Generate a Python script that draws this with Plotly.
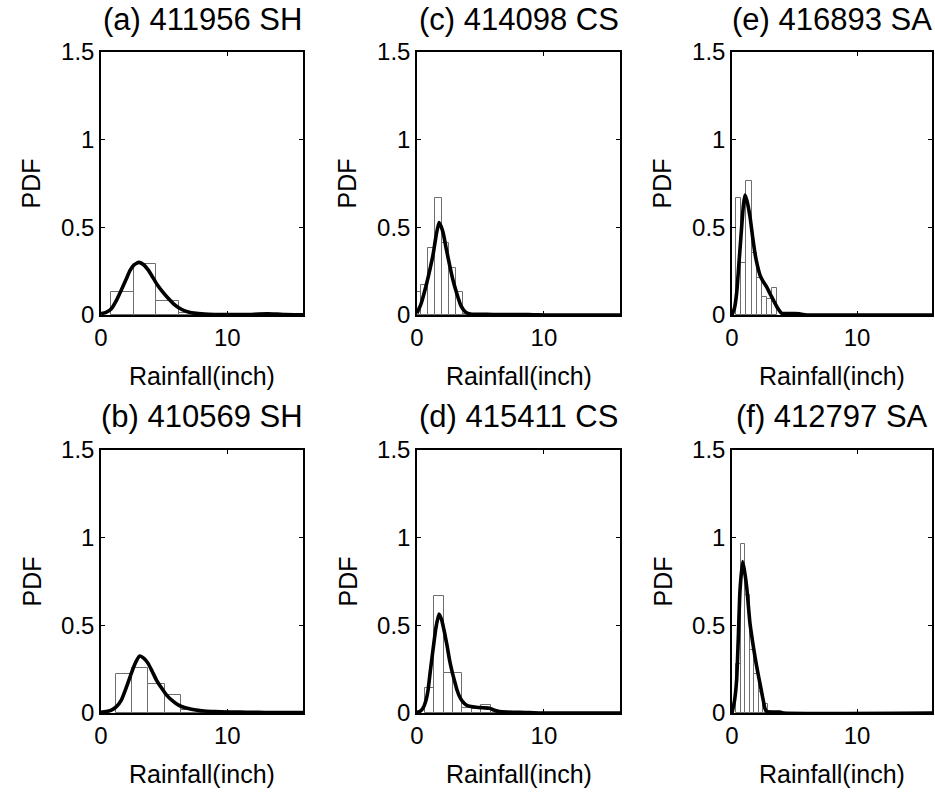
import numpy as np
import plotly.graph_objects as go

# ---------------- data ----------------
titles = ["(a) 411956 SH", "(b) 410569 SH", "(c) 414098 CS",
          "(d) 415411 CS", "(e) 416893 SA", "(f) 412797 SA"]

# histogram bin edges and PDF heights
a_edges = [0.77, 2.58, 4.38, 6.19, 8.00, 9.80, 11.61, 13.42, 15.22, 17.03]
a_hist = [0.131, 0.289, 0.082, 0.013, 0.002, 0.0, 0.008, 0.008, 0.0]
b_edges = [1.22, 2.49, 3.76, 5.03, 6.30, 7.57, 8.84, 10.11, 11.38, 12.65]
b_hist = [0.222, 0.255, 0.164, 0.103, 0.017, 0.008, 0.004, 0.003, 0.002]
c_edges = [-0.245, 0.31, 0.865, 1.42, 1.975, 2.53, 3.085, 3.64, 4.195]
c_hist = [0.13, 0.17, 0.38, 0.665, 0.41, 0.27, 0.13, 0.005]
d_edges = [0.6, 1.345, 2.09, 2.835, 3.58, 4.325, 5.07, 5.815, 6.56, 7.305]
d_hist = [0.141, 0.667, 0.23, 0.23, 0.03, 0.02, 0.046, 0.01, 0.004]
e_edges = [0.33, 0.74, 1.15, 1.56, 1.97, 2.38, 2.79, 3.2, 3.61]
e_hist = [0.666, 0.295, 0.766, 0.355, 0.21, 0.10, 0.09, 0.152]
f_edges = [0.33, 0.69, 1.05, 1.41, 1.77, 2.13, 2.49, 2.85]
f_hist = [0.28, 0.963, 0.674, 0.36, 0.22, 0.12, 0.05]

# kernel density curves
a_kx = [0, 0.4, 0.82, 1.2, 1.61, 2.0, 2.28, 2.6, 2.99, 3.35, 3.73, 4.1, 4.47, 4.9, 5.32,
        5.75, 6.19, 6.7, 7.17, 7.7, 8.2, 9, 10, 11, 11.8, 12.5, 13.2, 13.9, 14.6, 15.3, 16]
a_ky = [0.008, 0.015, 0.035, 0.08, 0.143, 0.205, 0.252, 0.285, 0.300, 0.288, 0.257, 0.215,
        0.171, 0.13, 0.095, 0.064, 0.04, 0.022, 0.013, 0.008, 0.005, 0.003, 0.002, 0.002,
        0.003, 0.006, 0.007, 0.005, 0.002, 0.001, 0.001]
b_kx = [0, 0.4, 0.82, 1.2, 1.61, 2.0, 2.4, 2.75, 3.07, 3.4, 3.73, 4.05, 4.39, 4.8, 5.18,
        5.65, 6.11, 6.6, 7.17, 7.7, 8.2, 9, 10, 11, 12, 13, 14, 16]
b_ky = [0.004, 0.008, 0.017, 0.035, 0.074, 0.145, 0.226, 0.29, 0.325, 0.312, 0.283, 0.238,
        0.188, 0.142, 0.103, 0.07, 0.046, 0.031, 0.021, 0.015, 0.011, 0.008, 0.006, 0.005,
        0.004, 0.003, 0.002, 0.002]
c_kx = [0, 0.3, 0.76, 1.05, 1.28, 1.5, 1.73, 1.9, 2.07, 2.3, 2.6, 2.85, 3.13, 3.45, 3.78,
        4.17, 5, 6, 7, 8, 8.8, 9.5, 10.5, 16]
c_ky = [0.01, 0.06, 0.18, 0.27, 0.35, 0.45, 0.527, 0.505, 0.466, 0.38, 0.275, 0.195, 0.124,
        0.055, 0.02, 0.006, 0.004, 0.003, 0.003, 0.003, 0.002, 0.001, 0.0, 0.0]
d_kx = [0, 0.25, 0.47, 0.7, 0.87, 1.05, 1.26, 1.5, 1.73, 1.95, 2.18, 2.38, 2.57, 2.77, 2.97,
        3.16, 3.36, 3.6, 3.88, 4.25, 4.67, 5.2, 5.72, 6.1, 6.5, 7.1, 7.7, 8.5, 9.2, 10, 16]
d_ky = [0.004, 0.01, 0.027, 0.07, 0.13, 0.24, 0.36, 0.49, 0.565, 0.53, 0.455, 0.38, 0.30,
        0.235, 0.18, 0.13, 0.093, 0.065, 0.046, 0.037, 0.033, 0.03, 0.027, 0.016, 0.008,
        0.005, 0.004, 0.003, 0.001, 0.0, 0.0]
e_kx = [0, 0.2, 0.37, 0.55, 0.77, 0.92, 1.04, 1.2, 1.44, 1.64, 1.84, 2.04, 2.24, 2.5, 2.77,
        3.05, 3.3, 3.65, 3.97, 4.5, 5.0, 5.4, 5.7, 6, 16]
e_ky = [0.0, 0.04, 0.124, 0.29, 0.5, 0.63, 0.684, 0.65, 0.56, 0.45, 0.35, 0.28, 0.228, 0.19,
        0.16, 0.12, 0.086, 0.04, 0.01, 0.008, 0.008, 0.007, 0.002, 0.0, 0.0]
f_kx = [0, 0.2, 0.37, 0.5, 0.64, 0.85, 1.0, 1.17, 1.3, 1.44, 1.64, 1.84, 2.04, 2.24, 2.45,
        2.64, 2.77, 3.3, 3.84, 4.1, 16]
f_ky = [0.0, 0.07, 0.188, 0.42, 0.70, 0.864, 0.81, 0.722, 0.62, 0.51, 0.41, 0.32, 0.24,
        0.168, 0.09, 0.025, 0.008, 0.006, 0.005, 0.0, 0.0]

y_tickvals = [0, 0.5, 1, 1.5]
y_ticktext = ["0", "0.5", "1", "1.5"]
x_tickvals = [0, 10]
x_ticktext = ["0", "10"]
x_label = "Rainfall(inch)"
y_label = "PDF"

panels = [
    (a_edges, a_hist, a_kx, a_ky),
    (b_edges, b_hist, b_kx, b_ky),
    (c_edges, c_hist, c_kx, c_ky),
    (d_edges, d_hist, d_kx, d_ky),
    (e_edges, e_hist, e_kx, e_ky),
    (f_edges, f_hist, f_kx, f_ky),
]

# ---------------- layout ----------------
W, H = 935, 793
col_px = [(101, 303), (417, 620), (732, 932)]
row_px = [(52, 315), (450, 713)]
FONT = "Liberation Sans, Arial, sans-serif"

fig = go.Figure()
layout = dict(width=W, height=H, autosize=False,
              margin=dict(l=0, r=0, t=0, b=0, pad=0, autoexpand=False),
              paper_bgcolor="white", plot_bgcolor="white", showlegend=False,
              font=dict(family=FONT, color="black", size=24), bargap=0)
annotations = []

for i, (edges, hist, kx, ky) in enumerate(panels):
    col = i // 2
    row = i % 2
    n = i + 1
    xa = "x" if n == 1 else f"x{n}"
    ya = "y" if n == 1 else f"y{n}"
    edges = np.array(edges)
    centers = (edges[:-1] + edges[1:]) / 2
    widths = np.diff(edges)
    fig.add_trace(go.Bar(x=centers, y=hist, width=widths, xaxis=xa, yaxis=ya,
                         marker=dict(color="white", line=dict(color="#6e6e6e", width=1))))
    fig.add_trace(go.Scatter(x=kx, y=ky, mode="lines", xaxis=xa, yaxis=ya,
                             line=dict(color="black", width=3.6, shape="spline", smoothing=0.5)))
    x0, x1 = col_px[col]
    y0, y1 = row_px[row]
    xd = [x0 / W, x1 / W]
    yd = [1 - y1 / H, 1 - y0 / H]
    axis_common = dict(showline=True, linecolor="black", linewidth=1.5, mirror="ticks",
                       ticks="inside", ticklen=4, tickwidth=1.2, tickcolor="black",
                       showgrid=False, zeroline=False, automargin=False,
                       tickfont=dict(size=24, family=FONT))
    layout["xaxis" if n == 1 else f"xaxis{n}"] = dict(
        domain=xd, range=[0, 16], anchor=ya, tickmode="array",
        tickvals=x_tickvals, ticktext=x_ticktext, **axis_common)
    layout["yaxis" if n == 1 else f"yaxis{n}"] = dict(
        domain=yd, range=[0, 1.5], anchor=xa, tickmode="array",
        tickvals=y_tickvals, ticktext=y_ticktext, **axis_common)
    cx = (x0 + x1) / 2 / W
    annotations.append(dict(text=titles[i], x=cx, y=1 - (y0 - 33) / H, xref="paper", yref="paper",
                            showarrow=False, xanchor="center", yanchor="middle",
                            font=dict(size=31, family=FONT)))
    annotations.append(dict(text=x_label, x=cx, y=1 - (y1 + 61) / H, xref="paper", yref="paper",
                            showarrow=False, xanchor="center", yanchor="middle",
                            font=dict(size=25, family=FONT)))
    annotations.append(dict(text=y_label, x=(x0 - 70) / W, y=1 - ((y0 + y1) / 2) / H,
                            xref="paper", yref="paper", textangle=-90,
                            showarrow=False, xanchor="center", yanchor="middle",
                            font=dict(size=25, family=FONT)))

layout["annotations"] = annotations
fig.update_layout(**layout)
fig.write_html("out.html")
